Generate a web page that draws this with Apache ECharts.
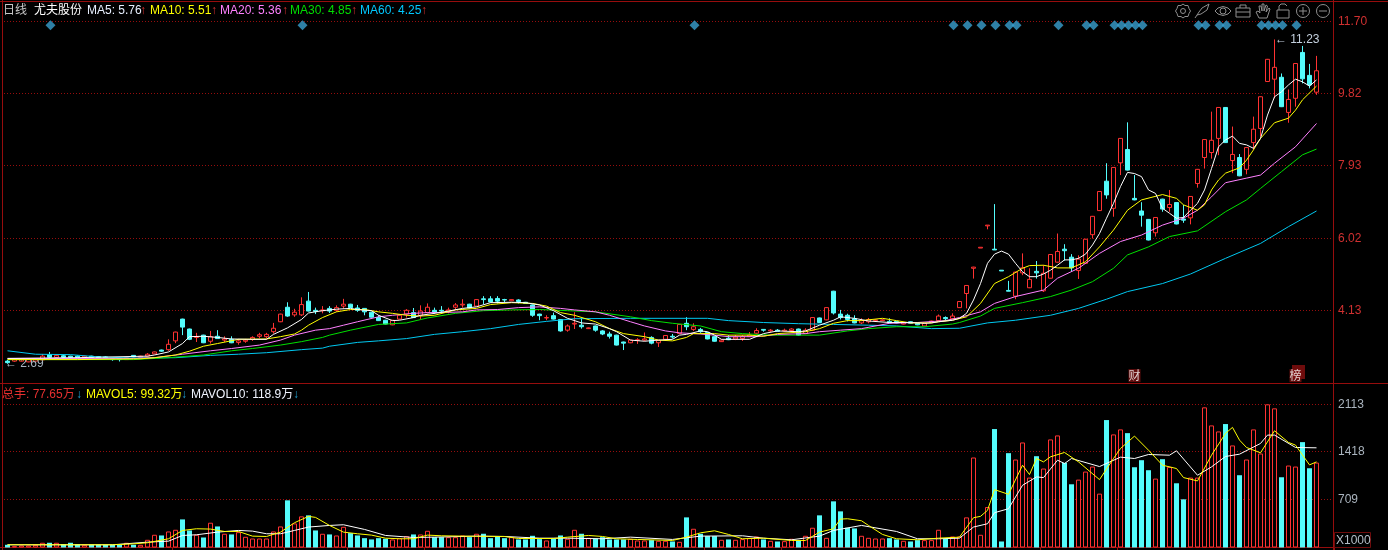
<!DOCTYPE html>
<html><head><meta charset="utf-8">
<style>html,body{margin:0;padding:0;background:#000}#c{width:1388px;height:550px}</style>
<script src="https://cdn.jsdelivr.net/npm/echarts@6/dist/echarts.min.js"></script>
</head><body><div id="c"></div>
<script>
// [open, close, low, high]
const ohlc=[[2.81,2.77,2.74,2.84],[2.81,2.85,2.79,2.87],[2.81,2.85,2.80,2.87],[2.79,2.87,2.78,2.89],[2.81,2.86,2.80,2.88],[2.84,2.94,2.83,2.99],[2.98,2.91,2.89,3.05],[2.91,2.96,2.90,2.98],[2.95,2.91,2.90,2.97],[2.94,2.91,2.90,2.95],
[2.94,2.91,2.90,2.96],[2.91,2.94,2.90,2.95],[2.94,2.91,2.90,2.95],[2.93,2.90,2.89,2.94],[2.92,2.90,2.89,2.94],[2.87,2.85,2.82,2.88],[2.87,2.85,2.80,2.88],[2.85,2.90,2.84,2.91],[2.96,2.92,2.91,2.97],[2.91,2.94,2.90,2.95],
[2.94,2.99,2.92,3.02],[3.00,3.05,2.99,3.06],[3.10,3.07,3.05,3.11],[3.11,3.25,3.08,3.38],[3.34,3.57,3.28,3.58],[3.91,3.70,3.49,3.92],[3.65,3.38,3.36,3.66],[3.43,3.45,3.31,3.55],[3.49,3.29,3.28,3.50],[3.33,3.45,3.27,3.60],
[3.46,3.40,3.40,3.62],[3.36,3.39,3.31,3.46],[3.38,3.29,3.28,3.46],[3.30,3.34,3.24,3.39],[3.33,3.36,3.29,3.39],[3.38,3.43,3.34,3.46],[3.46,3.50,3.41,3.55],[3.45,3.51,3.40,3.55],[3.58,3.67,3.53,3.81],[3.84,4.04,3.83,4.05],
[4.22,3.99,3.97,4.35],[4.02,4.09,3.97,4.18],[4.02,4.29,3.99,4.48],[4.38,4.12,4.11,4.62],[4.14,4.11,4.04,4.21],[4.13,4.15,4.06,4.25],[4.19,4.12,4.07,4.25],[4.14,4.21,4.10,4.27],[4.25,4.30,4.19,4.44],[4.30,4.21,4.20,4.31],
[4.20,4.14,4.10,4.28],[4.19,4.10,4.01,4.20],[4.09,3.96,3.95,4.10],[3.95,3.87,3.86,4.01],[3.88,3.78,3.77,3.89],[3.76,3.88,3.75,3.89],[3.91,4.01,3.90,4.02],[4.04,4.14,3.95,4.17],[4.08,3.95,3.95,4.20],[4.01,4.12,3.90,4.27],
[4.08,4.22,4.06,4.32],[4.14,4.09,4.04,4.21],[4.14,4.12,4.07,4.25],[4.12,4.15,4.06,4.21],[4.22,4.28,4.16,4.33],[4.28,4.30,4.21,4.43],[4.30,4.20,4.19,4.31],[4.25,4.42,4.24,4.43],[4.44,4.42,4.30,4.51],[4.44,4.36,4.34,4.51],
[4.45,4.38,4.32,4.51],[4.42,4.41,4.35,4.44],[4.39,4.42,4.38,4.43],[4.41,4.37,4.32,4.43],[4.35,4.32,4.31,4.36],[4.28,4.01,3.97,4.29],[4.04,4.00,3.88,4.05],[3.94,3.95,3.88,4.01],[4.00,3.91,3.90,4.08],[3.90,3.60,3.58,3.91],
[3.62,3.73,3.58,3.77],[3.78,3.80,3.65,4.09],[3.75,3.71,3.66,3.93],[3.66,3.68,3.65,3.69],[3.73,3.62,3.58,3.74],[3.60,3.52,3.49,3.62],[3.52,3.46,3.40,3.58],[3.49,3.23,3.22,3.50],[3.31,3.28,3.10,3.32],[3.29,3.36,3.28,3.37],
[3.35,3.37,3.26,3.41],[3.36,3.39,3.33,3.56],[3.43,3.28,3.25,3.46],[3.29,3.35,3.18,3.36],[3.38,3.48,3.37,3.49],[3.46,3.44,3.40,3.52],[3.53,3.77,3.52,3.78],[3.80,3.71,3.62,3.96],[3.64,3.71,3.60,3.80],[3.64,3.58,3.55,3.68],
[3.56,3.39,3.38,3.57],[3.45,3.33,3.32,3.46],[3.32,3.36,3.31,3.38],[3.41,3.37,3.36,3.49],[3.39,3.44,3.36,3.49],[3.40,3.45,3.34,3.49],[3.45,3.49,3.44,3.57],[3.54,3.61,3.52,3.67],[3.64,3.62,3.58,3.65],[3.60,3.62,3.57,3.65],
[3.62,3.59,3.58,3.65],[3.60,3.62,3.59,3.66],[3.61,3.65,3.57,3.67],[3.65,3.49,3.48,3.66],[3.53,3.62,3.52,3.67],[3.62,3.95,3.61,3.96],[3.94,3.82,3.81,3.95],[3.89,4.21,3.88,4.22],[4.64,4.07,4.03,4.65],[4.04,3.95,3.90,4.15],
[4.01,3.90,3.85,4.05],[3.92,3.81,3.80,4.01],[3.81,3.87,3.78,3.93],[3.84,3.90,3.80,3.94],[3.87,3.89,3.86,3.90],[3.87,3.89,3.86,3.91],[3.85,3.81,3.80,3.93],[3.85,3.81,3.80,3.86],[3.78,3.81,3.77,3.82],[3.84,3.80,3.79,3.85],
[3.80,3.76,3.75,3.81],[3.73,3.80,3.72,3.81],[3.82,3.86,3.81,3.87],[3.87,3.99,3.86,4.03],[3.95,3.92,3.87,3.98],[3.92,3.99,3.91,4.06],[4.21,4.37,4.20,4.38],[4.58,4.79,4.19,4.80],[5.24,5.27,4.97,5.28],[5.77,5.79,5.77,5.79],
[6.35,6.37,6.26,6.37],[5.74,5.72,5.72,6.92],[5.19,5.17,5.17,5.19],[4.66,4.64,4.64,4.91],[4.51,5.14,4.43,5.15],[5.12,5.25,5.06,5.63],[4.73,4.95,4.72,5.24],[5.16,5.12,4.97,5.43],[4.65,5.11,4.62,5.32],[4.98,5.60,4.97,5.61],
[5.40,5.68,5.39,6.15],[5.74,5.70,5.44,5.87],[5.53,5.25,5.15,5.61],[5.18,5.48,4.96,5.58],[5.37,6.00,5.36,6.01],[6.12,6.60,6.02,6.61],[6.75,7.25,6.74,7.26],[7.52,7.16,7.06,7.99],[6.81,7.88,6.59,7.89],[8.00,8.64,7.68,8.65],
[8.35,7.81,7.80,9.06],[7.07,7.03,7.02,7.68],[6.74,6.63,6.33,6.97],[6.52,5.98,5.97,6.53],[6.17,6.57,6.07,6.58],[7.05,6.79,6.72,7.06],[6.83,6.91,6.72,7.29],[6.96,6.40,6.39,6.97],[6.53,6.50,6.43,6.90],[6.56,7.12,6.39,7.13],
[7.46,7.83,7.35,7.84],[8.14,8.61,7.85,8.62],[8.27,8.59,8.11,9.34],[8.64,9.45,8.20,9.46],[9.45,8.53,8.52,9.46],[8.06,8.22,7.73,8.95],[8.14,7.66,7.65,8.23],[7.83,8.40,7.70,8.41],[8.53,8.88,8.34,9.21],[8.90,9.73,8.69,9.74],
[10.13,10.71,10.12,10.72],[10.19,10.50,9.69,11.23],[10.24,9.47,9.46,10.34],[9.32,9.66,9.05,9.92],[9.69,10.60,9.47,10.61],[10.89,10.20,10.08,11.06],[10.29,10.04,9.95,10.59],[9.85,10.41,9.78,10.80]];

const volume=[40,20,30,30,40,70,70,70,50,70,50,40,40,40,40,40,40,70,40,40,
114,188,178,237,262,415,252,188,148,366,311,203,193,227,158,133,133,133,237,311,
697,356,460,475,252,203,193,178,306,213,178,138,119,138,129,119,138,168,193,193,
247,153,153,153,153,178,153,203,203,138,168,138,153,119,119,173,124,104,129,178,
129,262,203,143,133,153,119,119,119,129,104,104,109,99,99,89,84,445,277,203,
168,168,114,119,114,124,143,163,119,99,89,94,129,99,173,292,475,143,682,534,
292,282,173,143,133,133,138,119,99,89,109,109,109,262,129,163,163,445,1330,188,
598,1750,89,1394,1300,1552,1033,1349,1167,1597,1656,1251,934,1003,1122,1196,796,1883,1671,1745,
1690,1186,1290,1142,1018,1305,1191,949,712,1033,1033,2071,1804,1715,1824,1508,1068,1300,1745,1389,
2116,2056,1038,1211,1196,1557,1171,1255];

// moving averages: [bar index, value]
const ma5=[[0,2.88],[10,2.90],[20,2.94],[21,2.97],[23,3.05],[25,3.27],[26,3.45],[28,3.46],[30,3.43],[32,3.39],[35,3.38],[37,3.38],[38,3.51],[40,3.68],[42,3.90],[43,4.07],[45,4.13],[47,4.17],[49,4.19],[50,4.16],[52,4.13],[53,4.01],[55,3.87],[56,3.88],[58,3.95],[59,4.01],[61,4.06],[63,4.12],[65,4.19],[67,4.23],[69,4.34],[72,4.35],[74,4.34],[76,4.28],[78,4.13],[80,3.93],[82,3.81],[84,3.78],[86,3.66],[87,3.58],[89,3.36],[91,3.33],[93,3.36],[95,3.38],[96,3.49],[97,3.51],[99,3.60],[100,3.58],[101,3.49],[102,3.38],[104,3.38],[106,3.38],[108,3.53],[110,3.60],[113,3.58],[114,3.60],[116,3.75],[118,3.88],[119,3.97],[121,3.93],[123,3.86],[126,3.82],[129,3.82],[131,3.80],[132,3.81],[133,3.84],[135,3.88],[136,3.93],[137,4.06],[138,4.41],[139,4.84],[140,5.37],[141,5.61],[142,5.69],[143,5.61],[144,5.37],[145,5.15],[146,5.02],[147,5.02],[148,5.09],[149,5.19],[150,5.32],[151,5.46],[152,5.46],[153,5.50],[154,5.61],[155,5.85],[156,6.15],[157,6.55],[158,6.94],[159,7.38],[160,7.75],[161,7.72],[162,7.64],[163,7.29],[164,7.20],[165,6.81],[166,6.68],[167,6.55],[168,6.57],[169,6.76],[170,6.94],[171,7.29],[172,7.85],[173,8.42],[174,8.60],[175,8.70],[176,8.51],[177,8.47],[178,8.38],[179,8.64],[180,9.25],[181,9.73],[182,9.86],[183,10.04],[184,10.19],[185,10.12],[186,10.01],[187,10.17]];
const ma10=[[0,2.85],[10,2.85],[19,2.87],[21,2.90],[24,2.97],[26,3.07],[28,3.20],[30,3.27],[33,3.38],[37,3.39],[39,3.45],[41,3.52],[42,3.62],[43,3.75],[45,3.95],[47,4.10],[49,4.16],[51,4.16],[53,4.10],[55,4.06],[57,4.01],[59,3.99],[61,4.01],[64,4.15],[67,4.19],[69,4.29],[72,4.34],[75,4.32],[77,4.25],[79,4.08],[81,4.01],[84,3.84],[86,3.66],[88,3.53],[91,3.45],[93,3.36],[95,3.34],[97,3.43],[98,3.53],[101,3.53],[103,3.49],[106,3.49],[108,3.46],[110,3.53],[114,3.58],[116,3.66],[118,3.80],[120,3.87],[122,3.87],[125,3.93],[127,3.87],[129,3.81],[132,3.81],[133,3.84],[135,3.88],[137,3.97],[139,4.32],[141,4.84],[143,5.02],[145,5.24],[146,5.31],[148,5.32],[150,5.25],[152,5.25],[154,5.41],[156,5.80],[158,6.24],[160,6.76],[162,7.03],[165,7.17],[167,7.07],[168,6.90],[170,6.76],[171,6.90],[172,7.29],[173,7.55],[174,7.73],[176,7.87],[177,8.07],[178,8.34],[179,8.64],[181,9.05],[183,9.17],[184,9.38],[185,9.65],[187,10.01]];
const ma20=[[0,2.88],[18,2.88],[21,2.90],[25,2.99],[29,3.08],[32,3.14],[36,3.23],[39,3.36],[41,3.49],[44,3.62],[46,3.66],[48,3.75],[50,3.84],[53,3.97],[55,4.01],[58,4.06],[60,4.08],[62,4.08],[65,4.10],[67,4.15],[70,4.16],[73,4.21],[76,4.23],[79,4.19],[81,4.15],[84,4.10],[86,4.01],[89,3.84],[91,3.73],[94,3.60],[96,3.55],[99,3.52],[101,3.49],[103,3.45],[107,3.45],[110,3.51],[114,3.53],[116,3.58],[119,3.62],[122,3.66],[126,3.80],[130,3.82],[134,3.87],[136,3.95],[139,4.10],[141,4.32],[144,4.50],[148,4.67],[150,4.98],[153,5.24],[156,5.63],[159,5.94],[162,6.11],[165,6.37],[168,6.55],[170,6.76],[172,7.11],[174,7.48],[177,7.60],[179,7.68],[181,7.99],[184,8.42],[187,9.03]];
const ma30=[[0,2.85],[18,2.85],[23,2.90],[28,2.97],[32,3.08],[35,3.14],[39,3.23],[42,3.32],[45,3.43],[46,3.49],[49,3.62],[53,3.77],[57,3.81],[60,3.94],[64,4.06],[68,4.13],[72,4.15],[76,4.16],[80,4.13],[84,4.10],[89,3.97],[92,3.87],[95,3.80],[99,3.73],[102,3.58],[105,3.53],[109,3.49],[113,3.49],[116,3.49],[120,3.60],[123,3.66],[127,3.71],[131,3.71],[135,3.78],[136,3.82],[139,3.99],[141,4.19],[145,4.34],[149,4.50],[152,4.67],[155,4.89],[158,5.24],[160,5.59],[163,5.80],[166,6.07],[170,6.22],[174,6.72],[177,7.03],[179,7.33],[182,7.77],[185,8.21],[187,8.36]];
const ma60=[[0,3.08],[4,2.99],[9,2.98],[13,2.92],[18,2.89],[24,2.90],[29,2.96],[33,2.99],[37,3.03],[42,3.11],[45,3.15],[46,3.20],[50,3.30],[53,3.34],[57,3.40],[61,3.51],[65,3.58],[69,3.66],[73,3.77],[77,3.85],[81,3.92],[89,3.93],[100,3.93],[103,3.87],[108,3.82],[113,3.79],[118,3.77],[123,3.75],[127,3.73],[132,3.66],[136,3.67],[140,3.81],[144,3.88],[149,4.01],[153,4.19],[157,4.43],[160,4.63],[165,4.84],[169,5.09],[174,5.50],[179,5.89],[183,6.33],[187,6.74]];
const mavol5=[[0,40],[15,40],[18,54],[20,70],[23,129],[25,252],[27,277],[29,272],[31,237],[33,237],[35,168],[37,163],[39,227],[41,366],[43,460],[44,445],[46,326],[48,227],[50,203],[52,183],[54,138],[56,129],[58,129],[60,183],[62,173],[65,168],[71,163],[73,133],[78,133],[80,153],[83,178],[85,163],[87,129],[90,119],[95,104],[97,153],[99,217],[101,247],[103,193],[105,129],[108,138],[112,104],[114,104],[116,227],[118,277],[119,420],[120,425],[122,395],[123,326],[125,193],[127,129],[130,114],[133,138],[136,153],[138,440],[139,460],[140,549],[141,855],[143,786],[145,1216],[146,1078],[147,1315],[148,1265],[149,1340],[151,1404],[153,1265],[156,1003],[158,1315],[159,1463],[161,1646],[163,1438],[165,1216],[167,1167],[168,1033],[170,984],[172,1364],[174,1686],[175,1775],[176,1587],[177,1478],[179,1399],[181,1725],[183,1552],[184,1513],[186,1221],[187,1265]];
const mavol10=[[0,40],[15,40],[20,79],[23,94],[25,178],[27,188],[30,227],[33,252],[35,242],[37,203],[39,203],[41,252],[43,302],[46,326],[48,336],[51,267],[54,178],[58,148],[61,153],[67,168],[71,163],[76,138],[80,138],[85,129],[89,153],[95,119],[99,168],[105,173],[108,138],[112,114],[116,168],[118,252],[122,326],[127,237],[130,129],[133,129],[136,138],[138,302],[140,351],[141,514],[143,573],[145,919],[147,1043],[148,1033],[150,1290],[151,1241],[152,1315],[156,1196],[159,1335],[161,1315],[163,1374],[166,1364],[167,1429],[170,1068],[172,1191],[174,1345],[176,1379],[179,1537],[180,1661],[181,1661],[184,1478],[187,1473]];

const signalBars=[6,42,98,135,137,139,141,143,144,150,154,155,158,159,160,161,162,170,171,173,174,179,180,181,182,184];
const priceTicks=[4.13,6.02,7.93,9.82,11.70];
const volTicks=[709,1418,2113];
const monthTicks=[24,35,40,49,60,72,78,90,100,111,125,137,148,159];
const topLegend=[['日线',3,'#c8c8c8'],['尤夫股份',34,'#ffffff'],['MA5: 5.76',87,'#e8f0ff'],['↑',140,'#d83030'],['MA10: 5.51',150,'#ffff00'],['↑',211,'#d83030'],['MA20: 5.36',220,'#ff80ff'],['↑',282,'#d83030'],['MA30: 4.85',290,'#00dd00'],['↑',351,'#d83030'],['MA60: 4.25',360,'#00c8ff'],['↑',421,'#d83030']];
const volLegend=[['总手: 77.65万',2,'#e83030'],['↓',76,'#1e9fd0'],['MAVOL5: 99.32万',86,'#ffff00'],['↓',181,'#1e9fd0'],['MAVOL10: 118.9万',191,'#f0f4ff'],['↓',293,'#1e9fd0']];
const tags=[[161,'财'],[184,'榜']];

const RED='#ff3232',CY='#54fcfc',DR='#960d0d',FONT='"Liberation Sans","Noto Sans CJK SC",sans-serif';
const cats=Array.from({length:190},(_,i)=>String(i));
const isUp=r=>r[1]>=r[0];
const upVol=volume.map((v,i)=>isUp(ohlc[i])?v:null), dnVol=volume.map((v,i)=>isUp(ohlc[i])?null:v);
const line=(name,data,color,x,y)=>({name,type:'line',data,xAxisIndex:x,yAxisIndex:y,showSymbol:false,symbol:'none',lineStyle:{color,width:1},itemStyle:{color},silent:true,z:5});

const IC='#8e8e8e';
const pl=(x,pts)=>({type:'polyline',x:x-8,y:3,silent:true,shape:{points:pts},style:{fill:'none',stroke:IC,lineWidth:1}});
const circ=(x,cx,cy,r)=>({type:'circle',x:x-8,y:3,silent:true,shape:{cx,cy,r},style:{fill:'none',stroke:IC,lineWidth:1}});
const icons=[
 pl(1183,[[8,1],[10,2.5],[13,2.5],[14,5.5],[15.5,8],[14,10.5],[13,13.5],[10,13.5],[8,15],[6,13.5],[3,13.5],[2,10.5],[.5,8],[2,5.5],[3,2.5],[6,2.5],[8,1]]),circ(1183,8,8,2.5),
 pl(1202,[[1,15],[5,9],[8,5],[15,1],[13,7],[7,11],[3,12]]),
 pl(1223,[[0,8],[3,5],[8,3.5],[13,5],[16,8],[13,11],[8,12.5],[3,11],[0,8]]),circ(1223,8,8,3),
 pl(1243,[[1,5],[15,5],[15,14],[1,14],[1,5]]),pl(1243,[[5,5],[5,2],[11,2],[11,5]]),pl(1243,[[1,9],[15,9]]),
 pl(1263,[[4,15],[1,9],[3,8],[5,10],[4,3],[6,3],[7,8],[7,1],[9,1],[9,8],[11,2],[12.5,3],[11,9],[14,5],[15,6],[12,15],[4,15]]),
 pl(1283,[[2,7],[14,7],[14,15],[2,15],[2,7]]),pl(1283,[[4,7],[4,3],[6,1],[10,1],[12,3]]),
 circ(1303,8,8,6.5),pl(1303,[[4,8],[12,8]]),pl(1303,[[8,4],[8,12]]),
 circ(1323,8,8,6.5),pl(1323,[[4,8],[12,8]])];

const txt=(text,x,y,fill)=>({type:'text',x,y,silent:true,style:{text,fill,font:'12px '+FONT,textVerticalAlign:'middle'}});
const ln=(x1,y1,x2,y2)=>({type:'line',silent:true,shape:{x1,y1,x2,y2},style:{stroke:DR,lineWidth:1}});

const graphic=[
 ln(0,1.5,1388,1.5),ln(2.5,0,2.5,550),ln(1333.5,0,1333.5,550),ln(0,383.5,1388,383.5),ln(0,547.5,1333,547.5),
 {type:'rect',silent:true,shape:{x:1334.5,y:532.5,width:36,height:15},style:{fill:'#000',stroke:'#6e0c0c',lineWidth:1}},
 {type:'rect',silent:true,shape:{x:1292,y:365,width:13,height:14},style:{fill:'#6e0c0c'}},
 txt('X1000',1336,540.5,'#b4bec8'),
 ...topLegend.map(t=>txt(t[0],t[1],11,t[2])),
 ...volLegend.map(t=>txt(t[0],t[1],395,t[2])),
 ...icons
];

const yAxisBase=(gridIndex,min,max,ticks,color,fmt)=>({type:'value',gridIndex,position:'right',min,max,scale:true,
 axisLine:{show:false},axisTick:{show:false,customValues:ticks},
 axisLabel:{color,fontFamily:FONT,fontSize:12,margin:4,customValues:ticks,formatter:fmt,showMinLabel:true,showMaxLabel:true},
 splitLine:{show:true,lineStyle:{color:'#960d0d',type:[1,2],width:1}}});

const chart=echarts.init(document.getElementById('c'),null,{renderer:'canvas'});
chart.setOption({
 animation:false,backgroundColor:'#000',
 grid:[{left:4,width:1330,top:21.5,height:361.5},{left:4,width:1330,top:404.5,height:143}],
 xAxis:[{type:'category',gridIndex:0,data:cats,boundaryGap:true,axisLine:{show:false},axisTick:{show:false},axisLabel:{show:false},splitLine:{show:false}},
        {type:'category',gridIndex:1,data:cats,boundaryGap:true,axisLine:{show:false},axisTick:{show:true,customValues:monthTicks,length:3,lineStyle:{color:DR}},axisLabel:{show:false},splitLine:{show:false}}],
 yAxis:[yAxisBase(0,2.237,11.70,priceTicks,'#d03030',v=>Number(v).toFixed(2)),
        yAxisBase(1,0,2113,volTicks,'#aab4be',v=>String(v))],
 series:[
  {name:'K',type:'candlestick',data:ohlc,xAxisIndex:0,yAxisIndex:0,barWidth:4,silent:true,z:3,
   itemStyle:{color:'#000',color0:CY,borderColor:RED,borderColor0:CY,borderWidth:1},
   markPoint:{symbol:'circle',symbolSize:1,silent:true,itemStyle:{color:'transparent'},
    data:[{coord:[181,11.23],value:'← 11.23',label:{position:'right',distance:0,formatter:'← 11.23',color:'#c4d0de',fontSize:12,fontFamily:FONT}},
          {coord:[0,2.73],value:'← 2.69',label:{position:'right',distance:-3,formatter:'← 2.69',color:'#a8b4c0',fontSize:12,fontFamily:FONT}}]}},
  line('MA60',ma60,'#00c8f0',0,0),line('MA30',ma30,'#00e000',0,0),line('MA20',ma20,'#ff80ff',0,0),line('MA10',ma10,'#ffff00',0,0),line('MA5',ma5,'#ffffff',0,0),
  {name:'signal',type:'scatter',data:signalBars.map(i=>[i,11.6]),xAxisIndex:0,yAxisIndex:0,symbol:'diamond',symbolSize:[10,10],symbolOffset:[1,0],itemStyle:{color:'#3aa0d0'},silent:true,z:6},
  {name:'tag',type:'scatter',data:tags.map(t=>({value:[t[0],2.43],label:{formatter:t[1]}})),xAxisIndex:0,yAxisIndex:0,symbol:'rect',symbolSize:[12,13],itemStyle:{color:'#7a1010'},
   label:{show:true,position:'inside',color:'#fff',fontSize:12,fontFamily:'"Noto Sans CJK SC"'},silent:true,z:6},
  {name:'volUp',type:'bar',data:upVol,xAxisIndex:1,yAxisIndex:1,barWidth:5,barGap:'-100%',silent:true,itemStyle:{color:'#000',borderColor:RED,borderWidth:1}},
  {name:'volDn',type:'bar',data:dnVol,xAxisIndex:1,yAxisIndex:1,barWidth:5,barGap:'-100%',silent:true,itemStyle:{color:CY}},
  line('MAVOL10',mavol10,'#ffffff',1,1),line('MAVOL5',mavol5,'#ffff00',1,1)
 ],
 graphic
});
</script></body></html>
